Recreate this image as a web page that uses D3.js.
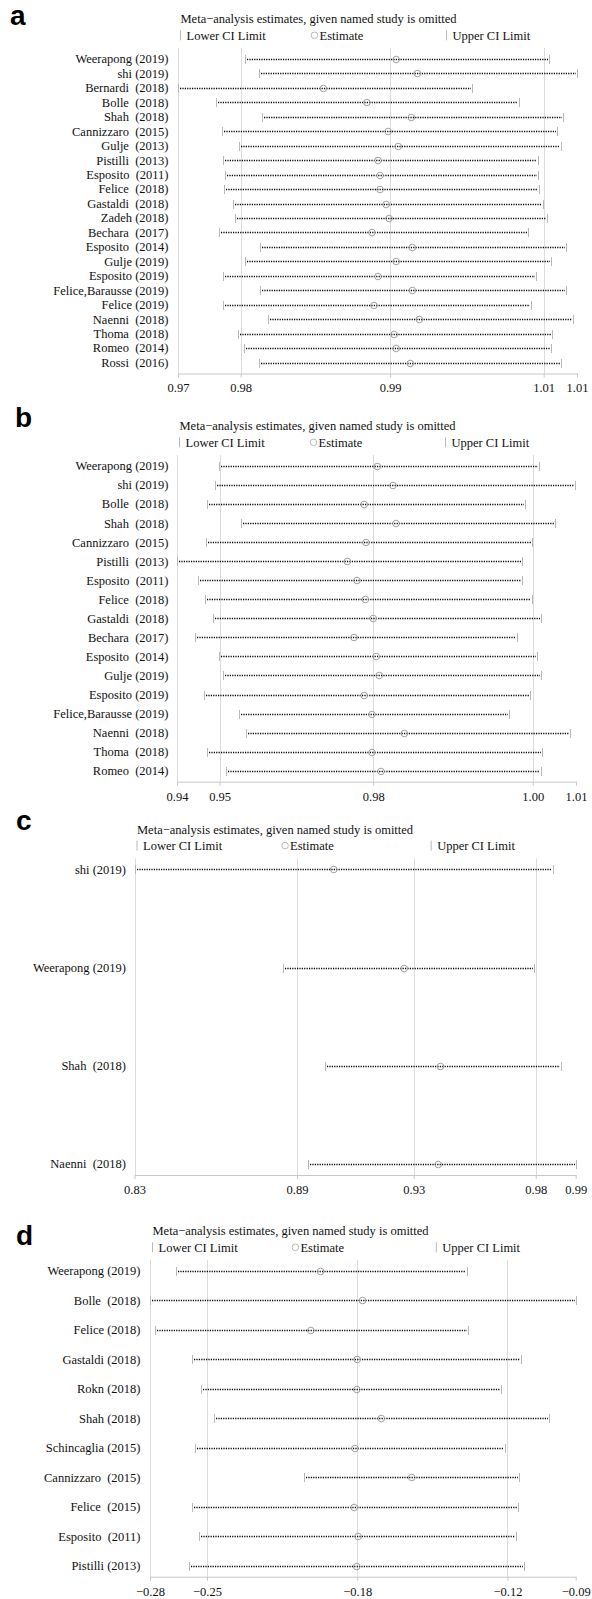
<!DOCTYPE html>
<html>
<head>
<meta charset="utf-8">
<script src="https://cdn.jsdelivr.net/npm/d3@7"></script>
<style>
  body { margin: 0; background: #fff; }
  svg text { font-family: "Liberation Serif", "Times New Roman", Times, serif; fill: #111; }
  svg text.letter { font-family: "Liberation Sans", Arial, sans-serif; font-weight: bold; fill: #000; }
</style>
</head>
<body>
<svg id="chart" width="592" height="1599"></svg>
<script>
// panel a
var studiesA = ['Weerapong (2019)', 'shi (2019)', 'Bernardi  (2018)', 'Bolle  (2018)', 'Shah  (2018)',
  'Cannizzaro  (2015)', 'Gulje  (2013)', 'Pistilli  (2013)', 'Esposito  (2011)', 'Felice  (2018)',
  'Gastaldi  (2018)', 'Zadeh (2018)', 'Bechara  (2017)', 'Esposito  (2014)', 'Gulje (2019)',
  'Esposito (2019)', 'Felice,Barausse (2019)', 'Felice (2019)', 'Naenni  (2018)', 'Thoma  (2018)',
  'Romeo  (2014)', 'Rossi  (2016)'];
var lowerA = [0.9756, 0.9770, 0.9690, 0.9728, 0.9773, 0.9734, 0.9750, 0.9735, 0.9737, 0.9736, 0.9744,
  0.9746, 0.9731, 0.9771, 0.9756, 0.9735, 0.9771, 0.9735, 0.9779, 0.9749, 0.9755, 0.9770];
var estA = [0.9906, 0.9927, 0.9834, 0.9877, 0.9921, 0.9898, 0.9908, 0.9888, 0.9890, 0.9890, 0.9896,
  0.9899, 0.9882, 0.9922, 0.9906, 0.9888, 0.9922, 0.9884, 0.9929, 0.9904, 0.9906, 0.9920];
var upperA = [1.0057, 1.0085, 0.9981, 1.0028, 1.0071, 1.0065, 1.0069, 1.0046, 1.0046, 1.0047, 1.0051,
  1.0055, 1.0036, 1.0074, 1.0059, 1.0044, 1.0074, 1.0039, 1.0081, 1.0060, 1.0059, 1.0069];
var ticksA = [0.9690, 0.9752, 0.9900, 1.0052, 1.0085];
var tickLabelsA = ['0.97', '0.98', '0.99', '1.01', '1.01'];

// panel b
var studiesB = ['Weerapong (2019)', 'shi (2019)', 'Bolle  (2018)', 'Shah  (2018)', 'Cannizzaro  (2015)',
  'Pistilli  (2013)', 'Esposito  (2011)', 'Felice  (2018)', 'Gastaldi  (2018)', 'Bechara  (2017)',
  'Esposito  (2014)', 'Gulje (2019)', 'Esposito (2019)', 'Felice,Barausse (2019)', 'Naenni  (2018)',
  'Thoma  (2018)', 'Romeo  (2014)'];
var lowerB = [0.9513, 0.9507, 0.9493, 0.9550, 0.9492, 0.9443, 0.9478, 0.9490, 0.9503, 0.9473, 0.9513,
  0.9520, 0.9488, 0.9546, 0.9558, 0.9493, 0.9525];
var estB = [0.9777, 0.9803, 0.9755, 0.9808, 0.9758, 0.9727, 0.9743, 0.9757, 0.9770, 0.9738, 0.9775,
  0.9780, 0.9755, 0.9768, 0.9822, 0.9768, 0.9783];
var upperB = [1.0047, 1.0107, 1.0023, 1.0073, 1.0035, 1.0018, 1.0018, 1.0035, 1.0050, 1.0010, 1.0043,
  1.0050, 1.0032, 0.9996, 1.0098, 1.0052, 1.0050];
var ticksB = [0.9443, 0.9514, 0.9770, 1.0036, 1.0108];
var tickLabelsB = ['0.94', '0.95', '0.98', '1.00', '1.01'];

// panel c
var studiesC = ['shi (2019)', 'Weerapong (2019)', 'Shah  (2018)', 'Naenni  (2018)'];
var lowerC = [0.8286, 0.8837, 0.8993, 0.8929];
var estC = [0.9024, 0.9285, 0.9419, 0.9411];
var upperC = [0.9835, 0.9764, 0.9864, 0.9920];
var ticksC = [0.8286, 0.8888, 0.9320, 0.9772, 0.9920];
var tickLabelsC = ['0.83', '0.89', '0.93', '0.98', '0.99'];

// panel d
var studiesD = ['Weerapong (2019)', 'Bolle  (2018)', 'Felice (2018)', 'Gastaldi (2018)', 'Rokn (2018)',
  'Shah (2018)', 'Schincaglia (2015)', 'Cannizzaro  (2015)', 'Felice  (2015)', 'Esposito  (2011)',
  'Pistilli (2013)'];
var lowerD = [-0.2670, -0.2788, -0.2767, -0.2597, -0.2558, -0.2498, -0.2585, -0.2091, -0.2600, -0.2566, -0.2611];
var estD = [-0.2016, -0.1826, -0.2060, -0.1850, -0.1852, -0.1741, -0.1860, -0.1603, -0.1864, -0.1846, -0.1852];
var upperD = [-0.1352, -0.0861, -0.1349, -0.1107, -0.1199, -0.0980, -0.1182, -0.1117, -0.1122, -0.1131, -0.1097];
var ticksD = [-0.2788, -0.2530, -0.1850, -0.1170, -0.0861];
var tickLabelsD = ['\u22120.28', '\u22120.25', '\u22120.18', '\u22120.12', '\u22120.09'];

var titleText = 'Meta\u2212analysis estimates, given named study is omitted';
var legendText = ['Lower CI Limit', 'Estimate', 'Upper CI Limit'];

var svg = d3.select('#chart');
var serif = '"Liberation Serif", "Times New Roman", Times, serif';
var gridColor = '#dcdcdc';
var capColor = '#b8b8b8';
var fontSize = 12.5;

var drawPanel = function(p) {
  var g = svg.append('g');
  var x = d3.scaleLinear().domain([p.ticks[0], p.ticks[p.ticks.length - 1]]).range([p.left, p.right]);
  var y = d3.scalePoint().domain(d3.range(p.studies.length)).range([p.top + 11, p.bottom - 11]);
  var ySnap = function(i) { return Math.round(y(i)) + 0.5; };

  g.append('text').attr('class', 'letter').attr('x', p.letterX).attr('y', p.letterY)
    .attr('font-family', '"Liberation Sans", Arial, sans-serif')
    .style('font-size', '28px').text(p.letter);

  g.append('text').attr('x', p.left + 2.5).attr('y', p.top - 29).attr('dy', '0.35em')
    .attr('font-family', serif).style('font-size', fontSize + 'px').text(titleText);

  // legend: three columns across the plot width
  var colW = (p.right - p.left) / 3;
  var legY = p.top - 12.7;
  [0, 1, 2].forEach(function(i) {
    var cx = p.left + i * colW;
    if (i == 1) {
      g.append('circle').attr('cx', cx + 3.5).attr('cy', legY).attr('r', 3.3)
        .attr('fill', 'none').attr('stroke', capColor);
    } else {
      g.append('line').attr('x1', cx + 2.5).attr('x2', cx + 2.5).attr('y1', legY - 5).attr('y2', legY + 5)
        .attr('stroke', capColor);
    }
    g.append('text').attr('x', cx + 8.5).attr('y', legY).attr('dy', '0.35em')
      .attr('font-family', serif).style('font-size', fontSize + 'px').text(legendText[i]);
  });

  // grid lines (none at the last tick)
  g.selectAll('.grid').data(p.ticks.slice(0, -1)).enter().append('line')
    .attr('x1', function(d) { return Math.round(x(d)) + 0.5; })
    .attr('x2', function(d) { return Math.round(x(d)) + 0.5; })
    .attr('y1', p.top).attr('y2', p.bottom)
    .attr('stroke', gridColor);

  var axis = d3.axisBottom(x).tickValues(p.ticks)
    .tickFormat(function(d, i) { return p.labels[i]; })
    .tickSize(4).tickSizeOuter(0).tickPadding(6);
  var ax = g.append('g').attr('transform', 'translate(0,' + p.bottom + ')').call(axis);
  ax.select('.domain').attr('stroke', '#c8c8c8');
  ax.selectAll('.tick line').attr('stroke', '#c8c8c8');
  ax.selectAll('.tick text').attr('fill', '#111')
    .attr('font-family', serif)
    .style('font-family', serif)
    .style('font-size', fontSize + 'px');

  var rows = g.selectAll('.row').data(p.studies).enter().append('g');

  rows.append('text').attr('x', p.labelX).attr('y', function(_, i) { return y(i); })
    .attr('dy', '0.35em').attr('text-anchor', 'end')
    .attr('font-family', serif)
    .style('font-size', fontSize + 'px').style('white-space', 'pre')
    .text(function(d) { return d; });

  // dotted CI line
  rows.append('line')
    .attr('x1', function(_, i) { return Math.round(x(p.lower[i])) + 2; })
    .attr('x2', function(_, i) { return Math.round(x(p.upper[i])) - 1; })
    .attr('y1', function(_, i) { return ySnap(i); })
    .attr('y2', function(_, i) { return ySnap(i); })
    .attr('stroke', '#000').attr('stroke-width', 1.6).attr('stroke-dasharray', '1.2,1.2');

  [p.lower, p.upper].forEach(function(vals) {
    rows.append('line')
      .attr('x1', function(_, i) { return Math.round(x(vals[i])) + 0.5; })
      .attr('x2', function(_, i) { return Math.round(x(vals[i])) + 0.5; })
      .attr('y1', function(_, i) { return ySnap(i) - 4.5; })
      .attr('y2', function(_, i) { return ySnap(i) + 4.5; })
      .attr('stroke', capColor);
  });

  rows.append('circle')
    .attr('cx', function(_, i) { return x(p.est[i]); })
    .attr('cy', function(_, i) { return ySnap(i); })
    .attr('r', 3.3).attr('fill', 'none').attr('stroke', '#a0a0a0');
};

drawPanel({ studies: studiesA, lower: lowerA, est: estA, upper: upperA, ticks: ticksA, labels: tickLabelsA,
  left: 178, right: 577, top: 48, bottom: 373.5, labelX: 168.5, letter: 'a', letterX: 10, letterY: 25 });
drawPanel({ studies: studiesB, lower: lowerB, est: estB, upper: upperB, ticks: ticksB, labels: tickLabelsB,
  left: 177, right: 576, top: 455, bottom: 781.7, labelX: 168.5, letter: 'b', letterX: 15, letterY: 427 });
drawPanel({ studies: studiesC, lower: lowerC, est: estC, upper: upperC, ticks: ticksC, labels: tickLabelsC,
  left: 134.5, right: 575.7, top: 858.3, bottom: 1175, labelX: 126, letter: 'c', letterX: 16, letterY: 830 });
drawPanel({ studies: studiesD, lower: lowerD, est: estD, upper: upperD, ticks: ticksD, labels: tickLabelsD,
  left: 150, right: 575.7, top: 1260, bottom: 1576.7, labelX: 140.5, letter: 'd', letterX: 16, letterY: 1245 });
</script>
</body>
</html>
